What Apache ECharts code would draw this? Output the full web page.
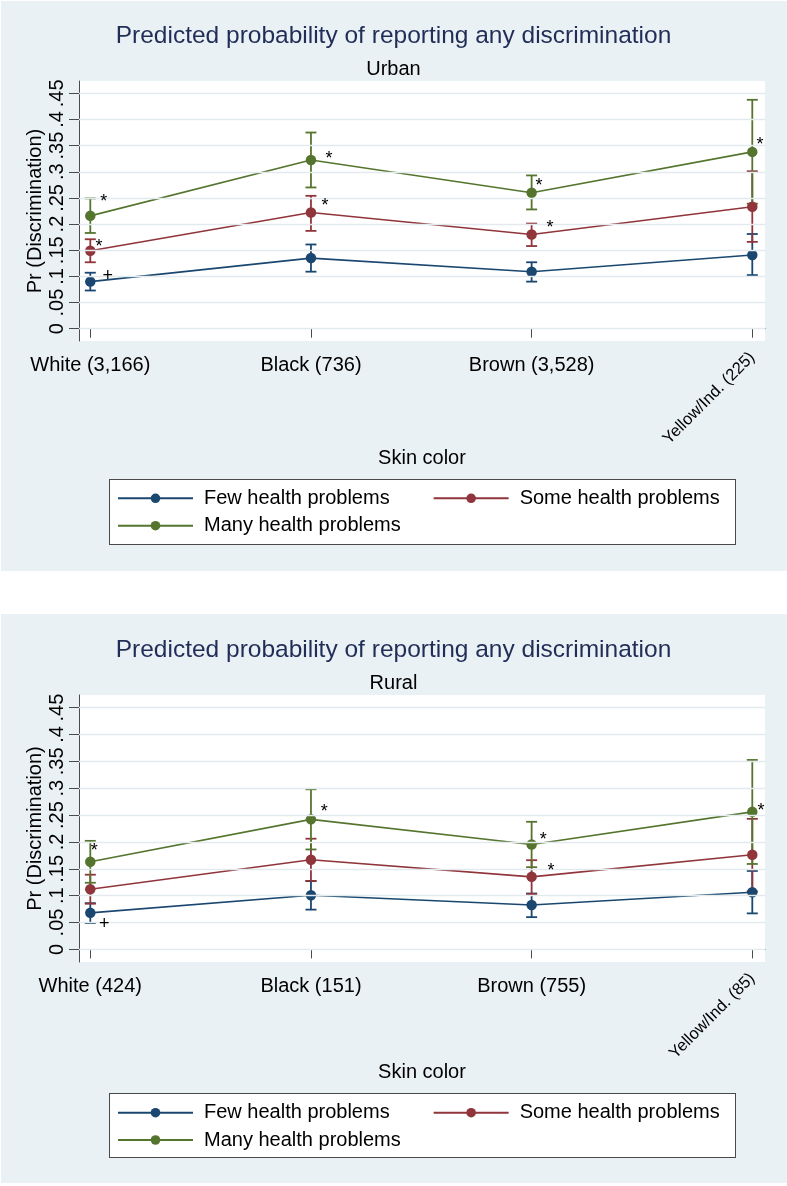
<!DOCTYPE html>
<html>
<head>
<meta charset="utf-8">
<script src="https://cdn.jsdelivr.net/npm/echarts@6/dist/echarts.min.js"></script>
<style>
  html, body { margin: 0; padding: 0; background: #ffffff; }
  #wrap { position: relative; width: 787px; height: 1186px; }
  .panel { position: absolute; background: #eaf1f4; }
  .lbox { position: absolute; background: #ffffff; border: 1px solid #4a4a4a; box-sizing: border-box; }
  #chart { position: absolute; left: 0; top: 0; width: 787px; height: 1186px; }
</style>
</head>
<body>
<div id="wrap">
  <div class="panel" style="left:1px;top:1px;width:786px;height:570px;"></div>
  <div class="panel" style="left:1px;top:614px;width:786px;height:569px;"></div>
  <div class="lbox" style="left:109px;top:479px;width:627px;height:66px;"></div>
  <div class="lbox" style="left:109px;top:1093px;width:627px;height:65px;"></div>
  <div id="chart"></div>
</div>
<script>
// ---------------- data ----------------
const mainTitle = 'Predicted probability of reporting any discrimination';
const panelNames = ['Urban', 'Rural'];
const xTitle = 'Skin color';
const yTitle = 'Pr (Discrimination)';
const groups = ['Few health problems', 'Some health problems', 'Many health problems'];

const urbanCategories = ['White (3,166)', 'Black (736)', 'Brown (3,528)', 'Yellow/Ind. (225)'];
const ruralCategories = ['White (424)', 'Black (151)', 'Brown (755)', 'Yellow/Ind. (85)'];

const yTicks = [0, 0.05, 0.1, 0.15, 0.2, 0.25, 0.3, 0.35, 0.4, 0.45];
const yTickLabels = ['0', '.05', '.1', '.15', '.2', '.25', '.3', '.35', '.4', '.45'];

// Urban: point estimates and 95% CI
const urbanFew      = [0.090, 0.135, 0.109, 0.141];
const urbanFewLo    = [0.073, 0.109, 0.090, 0.1025];
const urbanFewHi    = [0.107, 0.161, 0.127, 0.181];
const urbanSome     = [0.149, 0.222, 0.180, 0.233];
const urbanSomeLo   = [0.127, 0.187, 0.158, 0.166];
const urbanSomeHi   = [0.171, 0.254, 0.201, 0.301];
const urbanMany     = [0.2157, 0.3225, 0.260, 0.338];
const urbanManyLo   = [0.183, 0.270, 0.228, 0.239];
const urbanManyHi   = [0.249, 0.375, 0.293, 0.4376];

// Rural: point estimates and 95% CI
const ruralFew      = [0.068, 0.1007, 0.0827, 0.1063];
const ruralFewLo    = [0.049, 0.074, 0.060, 0.067];
const ruralFewHi    = [0.086, 0.127, 0.104, 0.146];
const ruralSome     = [0.112, 0.1667, 0.135, 0.176];
const ruralSomeLo   = [0.085, 0.1275, 0.103, 0.108];
const ruralSomeHi   = [0.139, 0.206, 0.166, 0.243];
const ruralMany     = [0.163, 0.242, 0.1953, 0.256];
const ruralManyLo   = [0.124, 0.186, 0.153, 0.159];
const ruralManyHi   = [0.202, 0.298, 0.2375, 0.3526];

// Significance annotations (category position, probability, text)
const urbanNoteX    = [1.061, 1.039, 1.079, 2.082, 2.064, 3.033, 3.083, 4.035];
const urbanNoteY    = [0.250, 0.164, 0.0998, 0.332, 0.242, 0.281, 0.200, 0.359];
const urbanNoteText = ['*', '*', '+', '*', '*', '*', '*', '*'];
const ruralNoteX    = [1.018, 1.063, 2.060, 3.053, 3.088, 4.039];
const ruralNoteY    = [0.191, 0.0479, 0.2636, 0.2114, 0.1536, 0.2655];
const ruralNoteText = ['*', '+', '*', '*', '*', '*'];

// ---------------- styling ----------------
const FONT = '"Liberation Sans", Arial, Helvetica, sans-serif';
const colors = ['#1a476f', '#90353b', '#55752f'];
const axisColor = '#4a4a4a';
const gridLineColor = '#e2eaee';

const panels = [
  { cats: urbanCategories, mean: [urbanFew, urbanSome, urbanMany], lo: [urbanFewLo, urbanSomeLo, urbanManyLo],
    hi: [urbanFewHi, urbanSomeHi, urbanManyHi], nx: urbanNoteX, ny: urbanNoteY, nt: urbanNoteText,
    grid: { left: 79, top: 81, width: 686, height: 260 }, titleTop: 23.5, subTop: 59, nameGap: 107,
    legendTop: [488.3, 515.7] },
  { cats: ruralCategories, mean: [ruralFew, ruralSome, ruralMany], lo: [ruralFewLo, ruralSomeLo, ruralManyLo],
    hi: [ruralFewHi, ruralSomeHi, ruralManyHi], nx: ruralNoteX, ny: ruralNoteY, nt: ruralNoteText,
    grid: { left: 79, top: 695, width: 686, height: 267 }, titleTop: 637.5, subTop: 673, nameGap: 100,
    legendTop: [1102.7, 1130] }
];

const X_MIN = 0.9488, X_MAX = 4.0576;
const Y_MIN = -0.0235, Y_MAX = 0.4735;

function yLabel(v) {
  const i = yTicks.findIndex(t => Math.abs(t - v) < 1e-9);
  return i >= 0 ? yTickLabels[i] : '';
}

function ciRender(params, api) {
  const x = api.value(0), lo = api.value(1), hi = api.value(2);
  const a = api.coord([x, lo]), b = api.coord([x, hi]);
  const hw = 5.5;
  const style = { stroke: api.visual('color'), lineWidth: 1.8 };
  return { type: 'group', children: [
    { type: 'line', shape: { x1: a[0], y1: a[1], x2: b[0], y2: b[1] }, style: style },
    { type: 'line', shape: { x1: a[0] - hw, y1: a[1], x2: a[0] + hw, y2: a[1] }, style: style },
    { type: 'line', shape: { x1: b[0] - hw, y1: b[1], x2: b[0] + hw, y2: b[1] }, style: style }
  ]};
}

const option = {
  animation: false,
  textStyle: { fontFamily: FONT },
  title: [], grid: [], xAxis: [], yAxis: [], series: [], legend: []
};

panels.forEach((p, pi) => {
  option.title.push({ text: mainTitle, left: 'center', top: p.titleTop, padding: 0,
    textStyle: { fontFamily: FONT, fontSize: 24.5, fontWeight: 'normal', color: '#1f2d57', lineHeight: 25 } });
  option.title.push({ text: panelNames[pi], left: 'center', top: p.subTop, padding: 0,
    textStyle: { fontFamily: FONT, fontSize: 20, fontWeight: 'normal', color: '#000', lineHeight: 20 } });

  option.grid.push(Object.assign({ show: true, backgroundColor: '#ffffff', borderWidth: 0,
    containLabel: false, outerBoundsMode: 'none' }, p.grid));

  const catFmt = v => p.cats[Math.round(v) - 1] || '';
  // main x axis (line, ticks, horizontal labels)
  option.xAxis.push({ type: 'value', gridIndex: pi, min: X_MIN, max: X_MAX, position: 'bottom',
    axisLine: { show: true, lineStyle: { color: axisColor, width: 1 } },
    axisTick: { show: true, length: 9, customValues: [1, 2, 3, 4], lineStyle: { color: axisColor, width: 1 } },
    axisLabel: { customValues: [1, 2, 3], formatter: catFmt, fontSize: 20, color: '#000', margin: 14, fontFamily: FONT },
    splitLine: { show: false },
    name: xTitle, nameLocation: 'middle', nameGap: p.nameGap, nameMoveOverlap: false,
    nameTextStyle: { fontSize: 20, color: '#000', fontFamily: FONT } });
  // overlay x axis for the rotated last label
  option.xAxis.push({ type: 'value', gridIndex: pi, min: X_MIN, max: X_MAX, position: 'bottom',
    axisLine: { show: false }, axisTick: { show: false }, splitLine: { show: false },
    axisLabel: { customValues: [4], formatter: catFmt, rotate: 45, fontSize: 16.5, color: '#000', margin: 14, fontFamily: FONT } });

  option.yAxis.push({ type: 'value', gridIndex: pi, min: Y_MIN, max: Y_MAX,
    axisLine: { show: true, lineStyle: { color: axisColor, width: 1 } },
    axisTick: { show: true, length: 10, customValues: yTicks, lineStyle: { color: axisColor, width: 1 } },
    axisLabel: { customValues: yTicks, formatter: yLabel, rotate: 90, fontSize: 20, color: '#000', margin: 12, fontFamily: FONT },
    splitLine: { show: false },
    name: yTitle, nameLocation: 'middle', nameRotate: 90, nameGap: 34, nameMoveOverlap: false,
    nameTextStyle: { fontSize: 20, color: '#000', fontFamily: FONT } });

  const xa = pi * 2;
  // grid lines
  option.series.push({ type: 'line', name: 'gridlines-' + pi, xAxisIndex: xa, yAxisIndex: pi, data: [], z: 1,
    markLine: { silent: true, symbol: ['none', 'none'], label: { show: false },
      lineStyle: { color: gridLineColor, width: 1.3, type: 'solid' },
      data: yTicks.map(v => ({ yAxis: v })) } });
  // lines + markers
  groups.forEach((g, gi) => {
    option.series.push({ type: 'line', name: g, xAxisIndex: xa, yAxisIndex: pi, z: 4,
      data: p.mean[gi].map((v, i) => [i + 1, v]),
      symbol: 'circle', symbolSize: 10.5, showSymbol: true,
      itemStyle: { color: colors[gi] }, lineStyle: { color: colors[gi], width: 1.6 } });
  });
  // confidence intervals
  groups.forEach((g, gi) => {
    option.series.push({ type: 'custom', name: 'ci-' + pi + '-' + gi, xAxisIndex: xa, yAxisIndex: pi, z: 3 + gi * 0.01,
      renderItem: ciRender, itemStyle: { color: colors[gi] },
      encode: { x: 0, y: [1, 2] },
      data: p.lo[gi].map((v, i) => [i + 1, v, p.hi[gi][i]]) });
  });
  // annotations
  option.series.push({ type: 'custom', name: 'notes-' + pi, xAxisIndex: xa, yAxisIndex: pi, z: 6,
    encode: { x: 0, y: 1 },
    data: p.nx.map((x, i) => [x, p.ny[i]]),
    renderItem: (params, api) => {
      const c = api.coord([api.value(0), api.value(1)]);
      const t = p.nt[params.dataIndex];
      return { type: 'text', x: c[0], y: c[1] + (t === '*' ? 4 : 0),
        style: { text: t, fill: '#000', font: '18px ' + FONT, align: 'center', verticalAlign: 'middle' } };
    } });

  const legendBase = { left: 117, orient: 'horizontal', padding: 0, itemWidth: 75, itemHeight: 12, itemGap: 43,
    selectedMode: false, textStyle: { fontSize: 20, color: '#000', fontFamily: FONT, padding: [0, 0, 0, 6], lineHeight: 20 } };
  option.legend.push(Object.assign({}, legendBase, { top: p.legendTop[0], data: [groups[0], groups[1]] }));
  option.legend.push(Object.assign({}, legendBase, { top: p.legendTop[1], data: [groups[2]] }));
});

const chart = echarts.init(document.getElementById('chart'), null, { renderer: 'canvas' });
chart.setOption(option);
</script>
</body>
</html>
